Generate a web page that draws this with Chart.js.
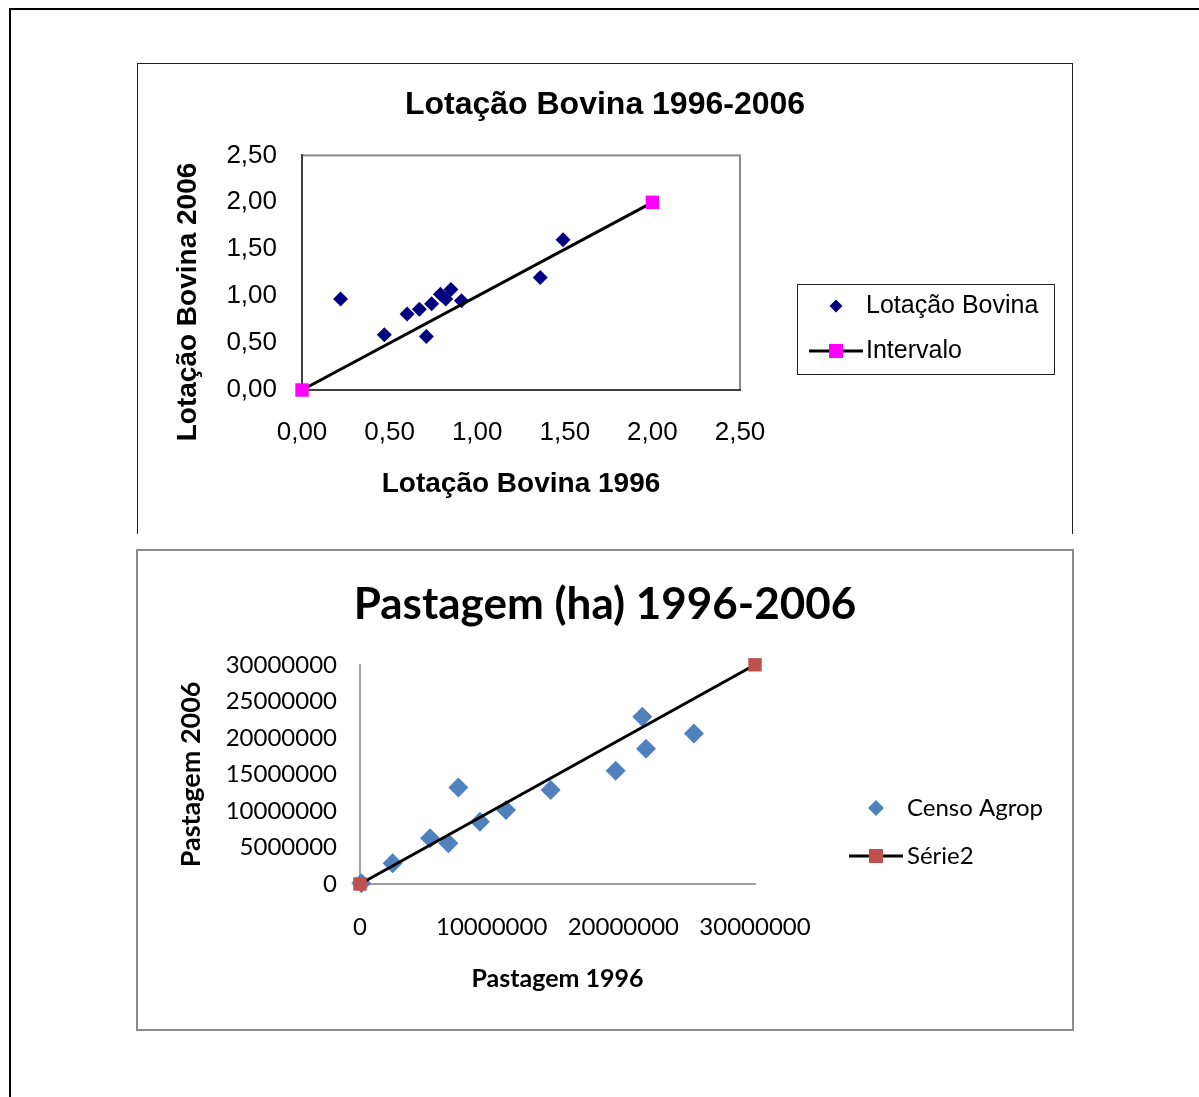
<!doctype html>
<html lang="pt">
<head>
<meta charset="utf-8">
<title>Lotação Bovina e Pastagem 1996-2006</title>
<script src="https://cdn.jsdelivr.net/npm/chart.js@4.4.1/dist/chart.umd.min.js"></script>
<style>
  body { margin: 0; background: #fff; }
  #frame { position: absolute; left: 9px; top: 8px; width: 1200px; height: 1100px;
           border-left: 2px solid #000; border-top: 2px solid #000; }
  .box { position: absolute; }
  #box1 { left: 137px; top: 63px; width: 934px; height: 470px;
          border: 1px solid #222; border-bottom: none; }
  #box2 { left: 136px; top: 549px; width: 934px; height: 478px; border: 2px solid #8c8c8c; }
  canvas { position: absolute; left: 0; top: 0; }
</style>
</head>
<body>
  <div id="frame"></div>
  <div class="box" id="box1"><canvas id="lotacaoChart" width="934" height="470"></canvas></div>
  <div class="box" id="box2"><canvas id="pastagemChart" width="934" height="478"></canvas></div>

<script>
// Lotação Bovina (cabeças/ha), 1996 vs 2006
const lotacao1996 = [0.22, 0.47, 0.60, 0.67, 0.74, 0.71, 0.79, 0.82, 0.85, 0.91, 1.36, 1.49];
const lotacao2006 = [0.97, 0.59, 0.81, 0.86, 0.92, 0.57, 1.02, 0.97, 1.07, 0.95, 1.20, 1.60];
const intervaloX = [0, 2];
const intervaloY = [0, 2];

// Pastagem (ha), 1996 vs 2006
const pastagem1996 = [100000, 2480000, 5320000, 6710000, 7470000, 9110000, 11090000, 14480000, 19420000, 21440000, 21720000, 25360000];
const pastagem2006 = [100000, 2830000, 6260000, 5560000, 13200000, 8520000, 10140000, 12880000, 15500000, 22900000, 18500000, 20600000];
const serie2X = [0, 30000000];
const serie2Y = [0, 30000000];

const ARIAL = 'Liberation Sans, Arial, sans-serif';
const CALIBRI = 'Lato, sans-serif';

const toPoints = (xs, ys) => xs.map((x, i) => ({ x: x, y: ys[i] }));
const decimalComma = v => v.toFixed(2).replace('.', ',');

// legend on the right, a y title off-centre (chart 1) and the grey plot frame
const extras = {
  id: 'extras',
  beforeDraw(chart, args, opts) {
    if (!opts.plotFrame) return;
    const a = chart.chartArea, ctx = chart.ctx;
    ctx.save();
    ctx.strokeStyle = opts.plotFrame;
    ctx.lineWidth = 2;
    ctx.strokeRect(a.left, a.top, a.right - a.left, a.bottom - a.top);
    ctx.restore();
  },
  afterDraw(chart, args, opts) {
    const ctx = chart.ctx;
    ctx.save();
    if (opts.yTitle) {
      const t = opts.yTitle;
      ctx.translate(t.x, t.y);
      ctx.rotate(-Math.PI / 2);
      ctx.font = t.font;
      ctx.fillStyle = '#000';
      ctx.textAlign = 'center';
      ctx.textBaseline = 'middle';
      ctx.fillText(t.text, 0, 0);
      ctx.setTransform(1, 0, 0, 1, 0, 0);
    }
    const lg = opts.legend;
    if (lg) {
      if (lg.frame) {
        ctx.strokeStyle = '#222';
        ctx.lineWidth = 1;
        ctx.strokeRect(lg.frame[0] + 0.5, lg.frame[1] + 0.5, lg.frame[2], lg.frame[3]);
      }
      lg.items.forEach(it => {
        const ds = chart.data.datasets[it.dataset];
        const x = lg.markerX, y = it.y;
        if (ds.showLine) {
          ctx.strokeStyle = ds.borderColor;
          ctx.lineWidth = ds.borderWidth;
          ctx.beginPath();
          ctx.moveTo(x - lg.lineHalf, y);
          ctx.lineTo(x + lg.lineHalf, y);
          ctx.stroke();
        }
        ctx.fillStyle = ds.pointBackgroundColor;
        ctx.beginPath();
        if (ds.pointStyle === 'rectRot') {
          ctx.moveTo(x - it.size, y);
          ctx.lineTo(x, y - it.size);
          ctx.lineTo(x + it.size, y);
          ctx.lineTo(x, y + it.size);
        } else {
          ctx.rect(x - it.size, y - it.size, it.size * 2, it.size * 2);
        }
        ctx.closePath();
        ctx.fill();
        ctx.font = lg.font;
        ctx.fillStyle = '#000';
        ctx.textAlign = 'left';
        ctx.textBaseline = 'middle';
        ctx.fillText(ds.label, lg.textX, y);
      });
    }
    ctx.restore();
  }
};

new Chart(document.getElementById('lotacaoChart'), {
  type: 'scatter',
  data: {
    datasets: [
      {
        label: 'Lotação Bovina',
        data: toPoints(lotacao1996, lotacao2006),
        pointStyle: 'rectRot',
        pointRadius: 7.5,
        pointBackgroundColor: '#000080',
        pointBorderColor: '#000080',
        pointBorderWidth: 0,
        order: 1,
        clip: false
      },
      {
        label: 'Intervalo',
        data: toPoints(intervaloX, intervaloY),
        showLine: true,
        borderColor: '#000',
        borderWidth: 3,
        pointStyle: 'rect',
        pointRadius: 9.5,
        pointBackgroundColor: '#ff00ff',
        pointBorderColor: '#ff00ff',
        pointBorderWidth: 0,
        order: 0,
        clip: false
      }
    ]
  },
  options: {
    responsive: false,
    animation: false,
    layout: { padding: 0 },
    scales: {
      x: {
        type: 'linear', position: 'bottom', min: 0, max: 2.5,
        afterFit: s => { s.height = 144; },
        grid: { display: false, drawTicks: false },
        border: { display: true, color: '#404040', width: 2 },
        ticks: { stepSize: 0.5, padding: 27, color: '#000', font: { family: ARIAL, size: 26 }, callback: decimalComma },
        title: { display: true, text: 'Lotação Bovina 1996', color: '#000', padding: 33,
                 font: { family: ARIAL, size: 28, weight: 'bold' } }
      },
      y: {
        type: 'linear', position: 'left', min: 0, max: 2.5,
        afterFit: s => { s.width = 164; },
        grid: { display: false, drawTicks: false },
        border: { display: true, color: '#404040', width: 2 },
        ticks: { stepSize: 0.5, padding: 25, color: '#000', font: { family: ARIAL, size: 26 }, callback: decimalComma }
      },
      spacer: {
        type: 'linear', axis: 'y', position: 'right', display: true,
        afterFit: s => { s.width = 332; },
        grid: { display: false }, border: { display: false }, ticks: { display: false }
      }
    },
    plugins: {
      legend: { display: false },
      tooltip: { enabled: false },
      title: {
        display: true, text: 'Lotação Bovina 1996-2006', color: '#000',
        font: { family: ARIAL, size: 32, weight: 'bold' }, padding: { top: 22, bottom: 31 }
      },
      extras: {
        plotFrame: '#8a8a8a',
        yTitle: { text: 'Lotação Bovina 2006', x: 50, y: 238, font: 'bold 28px ' + ARIAL },
        legend: {
          frame: [659, 220, 257, 90],
          markerX: 698, lineHalf: 27, textX: 728,
          font: '25px ' + ARIAL,
          items: [ { dataset: 0, y: 242, size: 6.5 }, { dataset: 1, y: 287, size: 7 } ]
        }
      }
    }
  },
  plugins: [extras]
});

new Chart(document.getElementById('pastagemChart'), {
  type: 'scatter',
  data: {
    datasets: [
      {
        label: 'Censo Agrop',
        data: toPoints(pastagem1996, pastagem2006),
        pointStyle: 'rectRot',
        pointRadius: 10,
        pointBackgroundColor: '#4f81bd',
        pointBorderColor: '#4f81bd',
        pointBorderWidth: 0,
        order: 1,
        clip: false
      },
      {
        label: 'Série2',
        data: toPoints(serie2X, serie2Y),
        showLine: true,
        borderColor: '#000',
        borderWidth: 3,
        pointStyle: 'rect',
        pointRadius: 9.5,
        pointBackgroundColor: '#c0504d',
        pointBorderColor: '#c0504d',
        pointBorderWidth: 0,
        order: 0,
        clip: false
      }
    ]
  },
  options: {
    responsive: false,
    animation: false,
    layout: { padding: 0 },
    scales: {
      x: {
        type: 'linear', position: 'bottom', min: 0, max: 30000000,
        afterFit: s => { s.height = 145; },
        grid: { display: false, drawTicks: false },
        border: { display: true, color: '#a0a0a0', width: 2 },
        ticks: { stepSize: 10000000, padding: 29, color: '#000', font: { family: CALIBRI, size: 24 }, callback: v => String(v) },
        title: { display: true, text: 'Pastagem 1996', color: '#000', padding: 35,
                 font: { family: CALIBRI, size: 25, weight: 'bold' } }
      },
      y: {
        type: 'linear', position: 'left', min: 0, max: 30000000,
        afterFit: s => { s.width = 222; },
        grid: { display: false, drawTicks: false },
        border: { display: true, color: '#a0a0a0', width: 2 },
        ticks: { stepSize: 5000000, padding: 23, color: '#000', font: { family: CALIBRI, size: 24 }, callback: v => String(v) },
        title: { display: true, text: 'Pastagem 2006', color: '#000', padding: 37,
                 font: { family: CALIBRI, size: 27, weight: 'bold' } }
      },
      spacer: {
        type: 'linear', axis: 'y', position: 'right', display: true,
        afterFit: s => { s.width = 317; },
        grid: { display: false }, border: { display: false }, ticks: { display: false }
      }
    },
    plugins: {
      legend: { display: false },
      tooltip: { enabled: false },
      title: {
        display: true, text: 'Pastagem (ha) 1996-2006', color: '#000',
        font: { family: CALIBRI, size: 44, weight: 'bold' }, padding: { top: 27, bottom: 34 }
      },
      extras: {
        legend: {
          markerX: 738, lineHalf: 27, textX: 769,
          font: '24px ' + CALIBRI,
          items: [ { dataset: 0, y: 257, size: 8 }, { dataset: 1, y: 305, size: 7 } ]
        }
      }
    }
  },
  plugins: [extras]
});
</script>
</body>
</html>
